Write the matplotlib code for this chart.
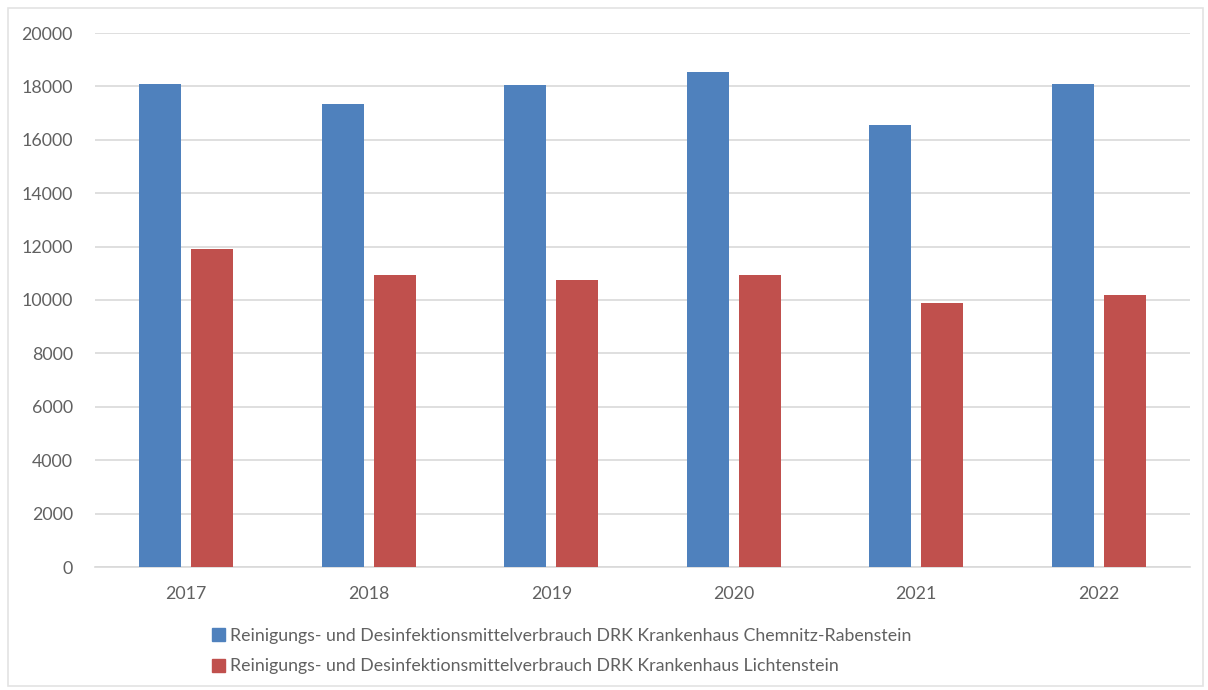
import numpy as np
import matplotlib
matplotlib.use("Agg")
import matplotlib.pyplot as plt
import matplotlib.patches as mpatches

plt.rcParams['font.family'] = ['Lato', 'DejaVu Sans']

years = ["2017", "2018", "2019", "2020", "2021", "2022"]
chemnitz = [18100, 17340, 18060, 18530, 16570, 18100]
lichtenstein = [11910, 10950, 10760, 10950, 9900, 10180]
series_names = [
    "Reinigungs- und Desinfektionsmittelverbrauch DRK Krankenhaus Chemnitz-Rabenstein",
    "Reinigungs- und Desinfektionsmittelverbrauch DRK Krankenhaus Lichtenstein",
]
yticks = list(range(0, 20001, 2000))

blue = "#4F81BD"
red = "#C0504D"
text_grey = "#616161"
grid_grey = "#D9D9D9"

fig = plt.figure(figsize=(12.08, 6.9), dpi=100)
ax = fig.add_axes([95 / 1208, 1 - 567 / 690, 1095 / 1208, 534 / 690])

ind = np.arange(len(years))
width = 0.23
ax.bar(ind - 0.143, chemnitz, width, color=blue, zorder=3)
ax.bar(ind + 0.143, lichtenstein, width, color=red, zorder=3)

ax.set_xlim(-0.5, len(years) - 0.5)
ax.set_ylim(0, 20000)
ax.set_yticks(yticks)
ax.set_yticklabels([str(v) for v in yticks])
ax.set_xticks(ind)
ax.set_xticklabels(years)
ax.yaxis.grid(True, color=grid_grey, linewidth=1.2, zorder=0)
ax.set_axisbelow(True)

for side in ["top", "right", "left"]:
    ax.spines[side].set_visible(False)
ax.spines["bottom"].set_color(grid_grey)
ax.spines["bottom"].set_linewidth(1.2)
ax.tick_params(axis="both", length=0, labelsize=12.8, colors=text_grey)
ax.tick_params(axis="y", pad=16)
ax.tick_params(axis="x", pad=14)

# legend: one series per row below the plot
handles = [mpatches.Patch(color=blue, label=series_names[0]),
           mpatches.Patch(color=red, label=series_names[1])]
fig.legend(handles=handles, loc="upper left",
           bbox_to_anchor=(196 / 1208, 1 - 612 / 690),
           frameon=False, fontsize=12.8, labelcolor=text_grey,
           handlelength=0.75, handleheight=0.75, handletextpad=0.25,
           labelspacing=0.8)

# light frame around the whole chart
fig.patches.append(mpatches.Rectangle((8 / 1208, 4 / 690), 1195 / 1208, 678 / 690,
                                      transform=fig.transFigure, fill=False,
                                      edgecolor="#E3E3E3", linewidth=1.2))

fig.savefig("out.png", dpi=100, facecolor="white")
